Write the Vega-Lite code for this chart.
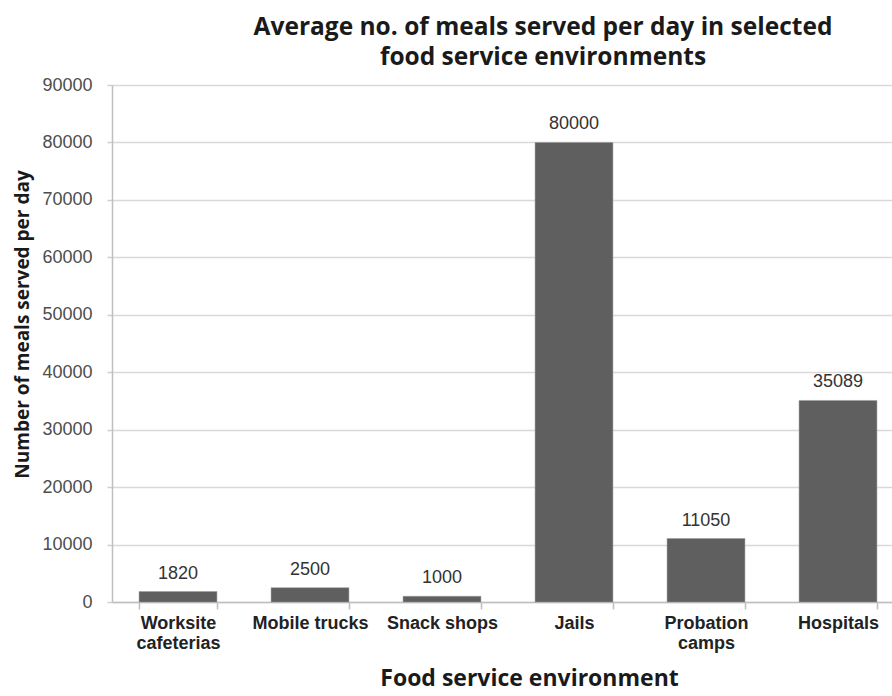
{
  "$schema": "https://vega.github.io/schema/vega-lite/v6.json",
  "autosize": {"type": "none"},
  "width": 792,
  "height": 517,
  "padding": {"left": 112, "top": 85, "right": 0, "bottom": 94},
  "background": "white",
  "title": {
    "text": ["Average no. of meals served per day in selected", "food service environments"],
    "font": "Open Sans",
    "fontSize": 24.5,
    "fontWeight": "bold",
    "color": "#1a1a1a",
    "anchor": "middle",
    "frame": "group",
    "dx": 35,
    "offset": 6,
    "lineHeight": 30
  },
  "config": {
    "view": {"stroke": null},
    "axis": {"labelFont": "Liberation Sans", "titleFont": "Open Sans"}
  },
  "data": {
    "values": [
      {"environment": "Worksite cafeterias", "meals": 1820},
      {"environment": "Mobile trucks", "meals": 2500},
      {"environment": "Snack shops", "meals": 1000},
      {"environment": "Jails", "meals": 80000},
      {"environment": "Probation camps", "meals": 11050},
      {"environment": "Hospitals", "meals": 35089}
    ]
  },
  "encoding": {
    "x": {
      "field": "environment",
      "type": "nominal",
      "sort": null,
      "scale": {"paddingInner": 0.41, "paddingOuter": 0.205},
      "axis": {
        "title": "Food service environment",
        "titleFontSize": 23,
        "titleFontWeight": "bold",
        "titleColor": "#1a1a1a",
        "titleX": 417,
        "titleY": 76,
        "titleBaseline": "middle",
        "labelAngle": 0,
        "labelFontSize": 18,
        "labelFontWeight": "bold",
        "labelColor": "#222222",
        "labelPadding": 5,
        "labelLineHeight": 20,
        "labelExpr": "datum.value == 'Worksite cafeterias' ? ['Worksite', 'cafeterias'] : datum.value == 'Probation camps' ? ['Probation', 'camps'] : datum.value",
        "tickBand": "extent",
        "tickSize": 7,
        "tickColor": "#bfbfbf",
        "tickWidth": 1.5,
        "domainColor": "#bfbfbf",
        "domainWidth": 1.5
      }
    },
    "y": {
      "field": "meals",
      "type": "quantitative",
      "scale": {"domain": [0, 90000], "nice": false},
      "axis": {
        "title": "Number of meals served per day",
        "titleFontSize": 19,
        "titleFontWeight": "bold",
        "titleColor": "#1a1a1a",
        "titleX": -90,
        "titleY": 239,
        "titleBaseline": "middle",
        "values": [0, 10000, 20000, 30000, 40000, 50000, 60000, 70000, 80000, 90000],
        "format": "d",
        "labelFontSize": 18,
        "labelColor": "#4d4d4d",
        "labelPadding": 15,
        "tickSize": 5,
        "tickColor": "#cfcfcf",
        "tickWidth": 1.5,
        "domainColor": "#bfbfbf",
        "domainWidth": 1.5,
        "grid": true,
        "gridColor": "#d9d9d9",
        "gridWidth": 1.5
      }
    }
  },
  "layer": [
    {"mark": {"type": "bar", "color": "#5f5f5f", "stroke": "#9a9a9a", "strokeWidth": 0.5}},
    {
      "mark": {"type": "text", "baseline": "middle", "dy": -18, "font": "Liberation Sans", "fontSize": 18, "color": "#333333"},
      "encoding": {"text": {"field": "meals", "type": "quantitative", "format": "d"}}
    }
  ]
}
